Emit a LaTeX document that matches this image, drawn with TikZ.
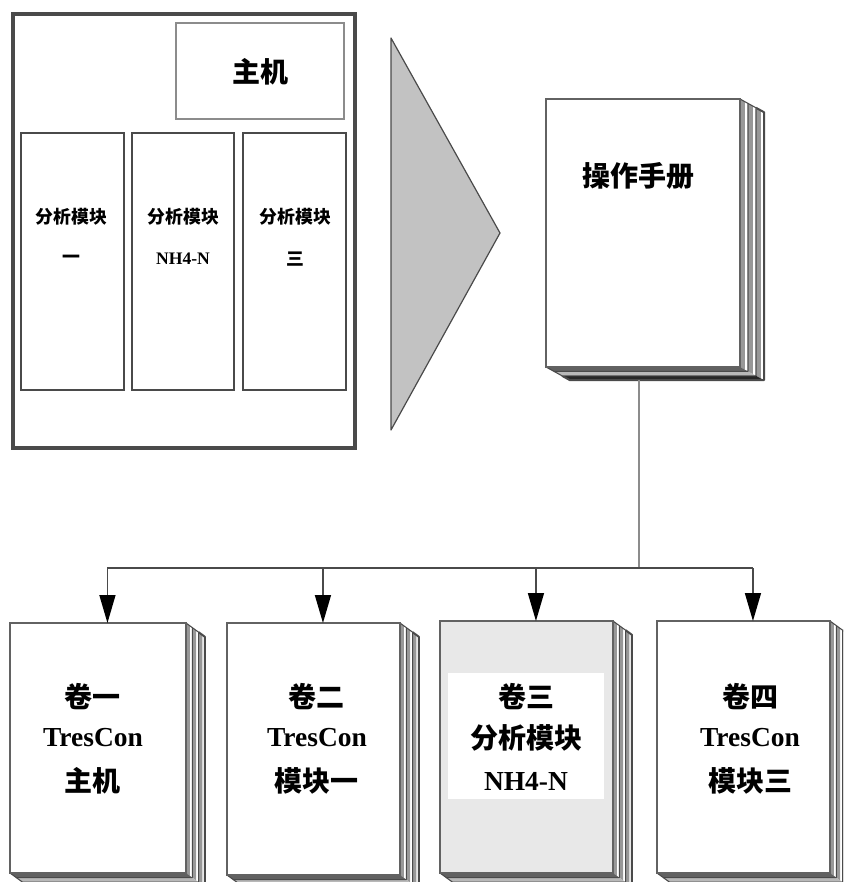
\documentclass[tikz,border=0pt]{standalone}
\usepackage{fontspec}
\setmainfont{Liberation Serif}
\newfontfamily\cjk{Noto Sans CJK SC}
\usetikzlibrary{arrows.meta}
\definecolor{edgeA}{HTML}{4A4A4A}
\definecolor{edgeB}{HTML}{8C8C8C}
\definecolor{bandA}{HTML}{989898}
\definecolor{wedge}{HTML}{C2C2C2}
\definecolor{paleA}{HTML}{E8E8E8}
\tikzset{
  every node/.style={inner sep=0pt,outer sep=0pt},
  bigcn/.style={font=\cjk\bfseries\fontsize{21}{25}\selectfont,text=black},
  smallcn/.style={font=\cjk\bfseries\fontsize{13.4}{16}\selectfont,text=black},
  bigen/.style={font=\bfseries\fontsize{20.6}{24}\selectfont,text=black},
  smallen/.style={font=\bfseries\fontsize{13.2}{16}\selectfont,text=black},
  frameouter/.style={draw=edgeA,line width=2.4pt},
  hostbox/.style={draw=edgeB,line width=2.2pt,fill=white},
  modbox/.style={draw=edgeA,line width=1.5pt,fill=white},
  pageedge/.style={draw=edgeB!70!black,line width=1.6pt},
  busline/.style={draw=edgeA,line width=1.5pt},
  feed/.style={draw=edgeA,line width=1.1pt,-{Triangle[length=21pt,width=12pt,color=black,fill=black]}},
  downline/.style={draw=edgeB,line width=1.2pt},
}
% name, x1, y1, x2, y2, page fill, dx, dy
\newcommand{\bookstack}[8]{%
  \foreach \i/\bot/\wid in {3/black!85/1.5pt,2/black!28/0.8pt,1/black!62/0.8pt}{%
    \pgfmathsetmacro{\ax}{#4+(\i-1)*#7}
    \pgfmathsetmacro{\ay}{#3+(\i-1)*#8}
    \pgfmathsetmacro{\bx}{#4+\i*#7}
    \pgfmathsetmacro{\by}{#3+\i*#8}
    \pgfmathsetmacro{\cy}{#5+\i*#8}
    \pgfmathsetmacro{\dx}{#2+\i*#7}
    \pgfmathsetmacro{\ex}{#2+(\i-1)*#7}
    \pgfmathsetmacro{\ey}{#5+(\i-1)*#8}
    \pgfmathsetmacro{\gx}{\ax+0.6*#7}
    \pgfmathsetmacro{\gy}{\ay+0.6*#8}
    \pgfmathsetmacro{\hy}{\ey+0.6*#8}
    \fill[white] (\ax,\ay) -- (\bx,\by) -- (\bx,\cy) -- (\ax,\ey) -- cycle;
    \fill[bandA] (\ax,\ay) -- (\gx,\gy) -- (\gx,\hy) -- (\ax,\ey) -- cycle;
    \fill[\bot] (\ex,\ey) -- (\dx,\cy) -- (\bx,\cy) -- (\ax,\ey) -- cycle;
    \draw[draw=edgeA,line width=\wid,line join=round] (\ax,\ay) -- (\bx,\by) -- (\bx,\cy) -- (\dx,\cy) -- (\ex,\ey);
  }
  \draw[pageedge,fill=#6] (#2,#3) rectangle (#4,#5);
  \pgfmathsetmacro{\fw}{#4-#2+3*#7}
  \pgfmathsetmacro{\fh}{#5-#3}
  \pgfmathsetmacro{\fx}{#2+\fw/2}
  \pgfmathsetmacro{\fy}{#3+\fh/2}
  \node[minimum width=\fw*0.75pt,minimum height=\fh*0.75pt] (#1) at (\fx,\fy) {};
}
\begin{document}
\begin{tikzpicture}[x=0.75pt,y=-0.75pt]
\clip (0,0) rectangle (843,882);
% left unit
\draw[frameouter] (13,14) rectangle (355,448);
\node[hostbox,minimum width=126pt,minimum height=72pt] (host) at (260,71) {};
\node[bigcn] (hostT) at (260,72) {主机};
\node[modbox,minimum width=77.5pt,minimum height=192.5pt] (m1) at (72.5,261.5) {};
\node[modbox,minimum width=76.5pt,minimum height=192.5pt] (m2) at (183,261.5) {};
\node[modbox,minimum width=77.5pt,minimum height=192.5pt] (m3) at (294.5,261.5) {};
\node[smallcn] (m1a) at (71.5,217) {分析模块};
\node[smallcn] (m2a) at (183.5,217) {分析模块};
\node[smallcn] (m3a) at (295.5,217) {分析模块};
\node[smallcn] (m1b) at (71.5,259) {一};
\node[smallen] (m2b) at (183,259) {NH4-N};
\node[smallcn] (m3b) at (295.5,259) {三};
% big wedge
\draw[draw=edgeA,line width=0.9pt,fill=wedge,line join=round] (391,38) -- (500,233) -- (391,430) -- cycle;
% manual
\bookstack{manual}{546}{99}{740}{367}{white}{8}{4.4}
\node[bigcn] (manualT) at (638,176) {操作手册};
% volumes
\bookstack{b1}{10}{623}{186}{873}{white}{6.3}{4.6}
\bookstack{b2}{227}{623}{400}{875}{white}{6.3}{4.6}
\bookstack{b3}{440}{621}{613}{873}{paleA}{6.3}{4.6}
\bookstack{b4}{657}{621}{830}{873}{white}{6.3}{4.6}
\node[fill=white,minimum width=117pt,minimum height=94.5pt] (b3w) at (526,736) {};
\node[bigcn] (b1a) at (92,697) {卷一};
\node[bigen] (b1b) at (93,738) {TresCon};
\node[bigcn] (b1c) at (92,781) {主机};
\node[bigcn] (b2a) at (316,697) {卷二};
\node[bigen] (b2b) at (317,738) {TresCon};
\node[bigcn] (b2c) at (316,781) {模块一};
\node[bigcn] (b3a) at (526,697) {卷三};
\node[bigcn] (b3b) at (526,738) {分析模块};
\node[bigen] (b3c) at (526,781) {NH4-N};
\node[bigcn] (b4a) at (750,697) {卷四};
\node[bigen] (b4b) at (750,738) {TresCon};
\node[bigcn] (b4c) at (750,781) {模块三};
% connectors
\coordinate (hub) at (639,568);
\draw[downline] (hub |- manual.south) ++(0,13) -- (hub);
\draw[busline] (hub) -- (hub -| b1.north);
\draw[busline] (hub) -- (hub -| b4.north);
\foreach \t in {b1,b2,b3,b4}{\draw[feed] (hub -| \t.north) -- (\t.north);}
\end{tikzpicture}
\end{document}
